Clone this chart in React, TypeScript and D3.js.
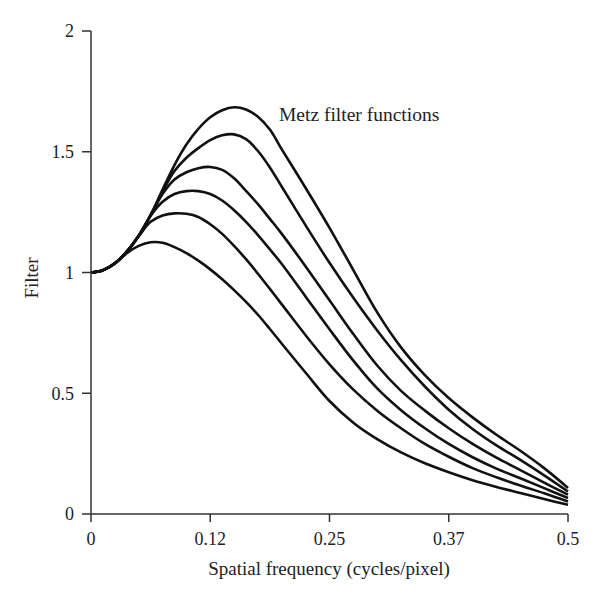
import React from "react";
import * as d3 from "d3";

const freqs = [0, 0.0125, 0.025, 0.0375, 0.05, 0.0625, 0.075, 0.0875, 0.1, 0.1125, 0.125, 0.1375, 0.15, 0.1625, 0.175, 0.1875, 0.2, 0.225, 0.25, 0.275, 0.3, 0.325, 0.35, 0.375, 0.4, 0.425, 0.45, 0.475, 0.5];

const curve1 = [1.0, 1.009, 1.037, 1.08, 1.11, 1.125, 1.123, 1.105, 1.08, 1.049, 1.013, 0.972, 0.927, 0.878, 0.825, 0.766, 0.705, 0.585, 0.468, 0.378, 0.31, 0.255, 0.21, 0.173, 0.14, 0.112, 0.087, 0.062, 0.038];
const curve2 = [1.0, 1.0095, 1.038, 1.086, 1.15, 1.21, 1.236, 1.245, 1.243, 1.23, 1.2, 1.16, 1.11, 1.055, 0.995, 0.932, 0.868, 0.74, 0.62, 0.515, 0.428, 0.355, 0.29, 0.237, 0.19, 0.152, 0.118, 0.086, 0.052];
const curve3 = [1.0, 1.0095, 1.038, 1.086, 1.152, 1.235, 1.293, 1.325, 1.337, 1.337, 1.325, 1.298, 1.258, 1.21, 1.155, 1.096, 1.035, 0.9, 0.765, 0.635, 0.52, 0.43, 0.355, 0.29, 0.235, 0.188, 0.148, 0.107, 0.066];
const curve4 = [1.0, 1.0095, 1.038, 1.086, 1.152, 1.237, 1.325, 1.385, 1.415, 1.432, 1.437, 1.425, 1.39, 1.338, 1.283, 1.222, 1.16, 1.025, 0.885, 0.745, 0.615, 0.51, 0.428, 0.355, 0.29, 0.233, 0.182, 0.13, 0.08];
const curve5 = [1.0, 1.0095, 1.038, 1.086, 1.152, 1.238, 1.335, 1.42, 1.475, 1.515, 1.548, 1.568, 1.572, 1.552, 1.503, 1.435, 1.355, 1.195, 1.04, 0.895, 0.76, 0.637, 0.528, 0.432, 0.352, 0.284, 0.224, 0.16, 0.093];
const curve6 = [1.0, 1.0095, 1.038, 1.086, 1.152, 1.238, 1.343, 1.445, 1.53, 1.595, 1.643, 1.672, 1.684, 1.675, 1.645, 1.592, 1.51, 1.35, 1.185, 1.01, 0.835, 0.69, 0.575, 0.48, 0.4, 0.328, 0.262, 0.19, 0.108];

const seriesList = [curve1, curve2, curve3, curve4, curve5, curve6];

const xTicks = [0, 0.125, 0.25, 0.375, 0.5];
const xTickLabels = ["0", "0.12", "0.25", "0.37", "0.5"];
const yTicks = [0, 0.5, 1, 1.5, 2];
const yTickLabels = ["0", "0.5", "1", "1.5", "2"];

const xTitle = "Spatial frequency (cycles/pixel)";
const yTitle = "Filter";
const annotation = "Metz filter functions";

const W = 600;
const H = 599;
const FONT = "'Liberation Serif', 'Times New Roman', serif";

export default function App() {
  const x = d3.scaleLinear().domain([0, 0.5]).range([91, 568]);
  const y = d3.scaleLinear().domain([0, 2]).range([514, 31]);

  const line = d3
    .line<number>()
    .x((_, i) => x(freqs[i]))
    .y((d) => y(d))
    .curve(d3.curveCatmullRom.alpha(0.5));

  const axisColor = "#333";

  return (
    <svg
      width={W}
      height={H}
      style={{ position: "absolute", left: 0, top: 0, background: "#fff" }}
      fontFamily={FONT}
    >
      <rect x={0} y={0} width={W} height={H} fill="#fff" />
      {seriesList.map((s, i) => (
        <path key={i} d={line(s) || ""} fill="none" stroke="#111" strokeWidth={2.6} strokeLinejoin="round" />
      ))}
      <line x1={x(0)} x2={x(0)} y1={y(2)} y2={y(0)} stroke={axisColor} strokeWidth={1.5} />
      {yTicks.map((t, i) => (
        <g key={"y" + i}>
          <line x1={x(0) - 9} x2={x(0)} y1={y(t)} y2={y(t)} stroke={axisColor} strokeWidth={1.5} />
          <text x={x(0) - 17} y={y(t)} dy="0.35em" textAnchor="end" fontSize={18} fill="#222">
            {yTickLabels[i]}
          </text>
        </g>
      ))}
      <line x1={x(0)} x2={x(0.5)} y1={y(0)} y2={y(0)} stroke={axisColor} strokeWidth={1.5} />
      {xTicks.map((t, i) => (
        <g key={"x" + i}>
          <line x1={x(t)} x2={x(t)} y1={y(0)} y2={y(0) + 8} stroke={axisColor} strokeWidth={1.5} />
          <text x={x(t)} y={545} textAnchor="middle" fontSize={18} fill="#222">
            {xTickLabels[i]}
          </text>
        </g>
      ))}
      <text x={329} y={575} textAnchor="middle" fontSize={19} fill="#222">
        {xTitle}
      </text>
      <text transform="translate(38,278) rotate(-90)" textAnchor="middle" fontSize={19} fill="#222">
        {yTitle}
      </text>
      <text x={279} y={121} fontSize={19.5} fill="#222">
        {annotation}
      </text>
    </svg>
  );
}
